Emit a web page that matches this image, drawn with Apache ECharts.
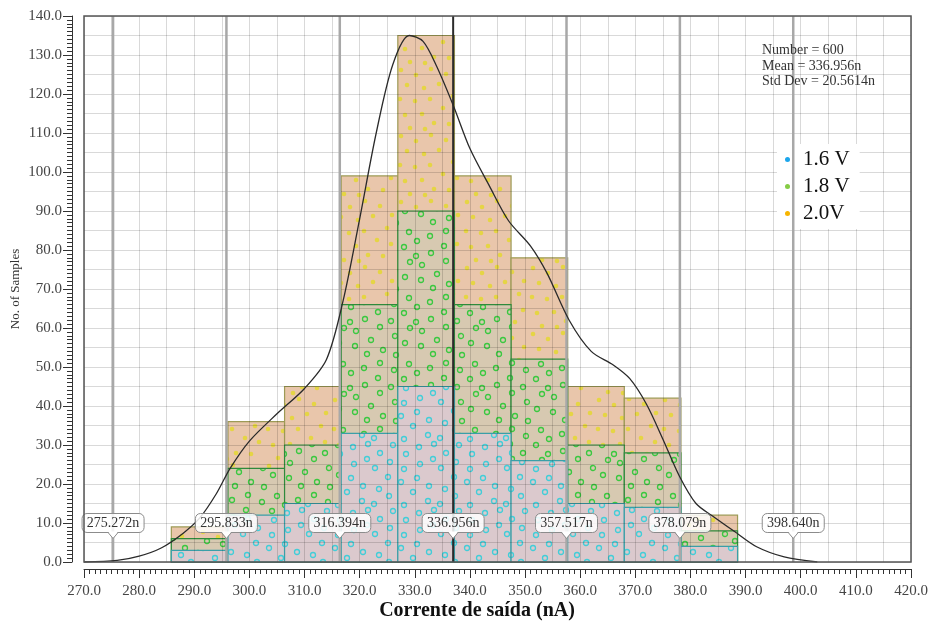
<!DOCTYPE html>
<html>
<head>
<meta charset="utf-8">
<script src="https://cdn.jsdelivr.net/npm/echarts@6/dist/echarts.min.js"></script>
<style>
  html, body { margin: 0; padding: 0; background: #ffffff; }
  #chart { width: 929px; height: 624px; }
</style>
</head>
<body>
<div id="chart"></div>
<script>
// Histogram bin edges of the output current (nA)
const binEdges = [285.84, 296.11, 306.38, 316.65, 326.92, 337.19, 347.46, 357.73, 368.00, 378.27, 388.54];
// Samples per bin for each supply voltage
const counts16 = [3, 12, 15, 33, 45, 33, 26, 15, 14, 4];
const counts18 = [6, 24, 30, 66, 90, 66, 52, 30, 28, 8];
const counts20 = [9, 36, 45, 99, 135, 99, 78, 45, 42, 12];
const seriesNames = ['1.6 V', '1.8 V', '2.0V'];

// Smoothed density curve of the 600 samples
const curveX = [270, 276, 280, 284, 288, 291, 294, 296.5, 300, 305, 310, 314, 317, 320, 323, 326, 329, 331.5, 334, 337, 340, 343.5, 347, 351, 354, 358, 362, 366, 369, 372, 375, 378, 381, 384, 388, 392, 397, 403];
const curveY = [0, 0.4, 1.5, 3.6, 7.4, 11.3, 17.5, 24, 31, 38, 44.5, 52, 67, 88, 110, 127.5, 135, 133.5, 127, 117, 106, 96.5, 87.5, 81, 74, 62, 54, 50.5, 47, 40.5, 31.5, 22, 15, 11.8, 7.8, 3.9, 1.3, 0];

// Mean and mean ± 1σ, 2σ, 3σ
const meanValue = 336.956;
const markerValues = [275.272, 295.833, 316.394, 336.956, 357.517, 378.079, 398.640];
const markerLabels = ['275.272n', '295.833n', '316.394n', '336.956n', '357.517n', '378.079n', '398.640n'];
const calloutLevel = 10;

const statsLines = ['Number = 600', 'Mean = 336.956n', 'Std Dev = 20.5614n'];

// Axis ranges
const xMin = 270, xMax = 420, xStep = 10;
const yMin = 0, yMax = 140, yStep = 10;
const gridStep = 5;

const SERIF = '"Liberation Serif", "Times New Roman", serif';

// Tile textures: a base colour sprinkled with sample dots
const TILE = 66;
const spotsBase = [[5, 4], [20, 9], [35, 3], [50, 8], [62, 17], [11, 19], [28, 22], [43, 18], [57, 30], [4, 33],
                   [19, 35], [34, 33], [47, 42], [61, 46], [9, 49], [26, 48], [38, 57], [53, 58], [14, 62], [29, 63]];

function makeTile(bg, dotColor, ring, spots) {
  const c = document.createElement('canvas');
  c.width = TILE; c.height = TILE;
  const g = c.getContext('2d');
  g.fillStyle = bg;
  g.fillRect(0, 0, TILE, TILE);
  spots.forEach(function (s) {
    for (let dx = -TILE; dx <= TILE; dx += TILE) {
      for (let dy = -TILE; dy <= TILE; dy += TILE) {
        g.beginPath();
        if (ring) {
          g.arc(s[0] + dx, s[1] + dy, 2.5, 0, Math.PI * 2);
          g.strokeStyle = dotColor;
          g.lineWidth = 1.3;
          g.stroke();
        } else {
          g.arc(s[0] + dx, s[1] + dy, 2.3, 0, Math.PI * 2);
          g.fillStyle = dotColor;
          g.fill();
        }
      }
    }
  });
  return c;
}
const spotsYellow = spotsBase;
const spotsGreen = spotsBase.map(function (s) { return [(TILE - s[1] + 17) % TILE, (s[0] + 29) % TILE]; });
const spotsCyan = spotsBase.map(function (s) { return [(s[1] + 41) % TILE, (TILE - s[0] + 11) % TILE]; });

const tile20 = makeTile('#e9c6ab', 'rgba(228, 214, 56, 0.9)', false, spotsYellow);
const tile18 = makeTile('#d7c9b1', 'rgba(50, 200, 58, 0.95)', true, spotsGreen);
const tile16 = makeTile('#dbc9cd', 'rgba(58, 206, 216, 0.95)', true, spotsCyan);

function binData(counts) {
  return counts.map(function (c, i) { return [binEdges[i], binEdges[i + 1], c]; });
}

function barSeries(name, counts, legendColor, tile, border, z) {
  const fill = { image: tile, repeat: 'repeat' };
  return {
    type: 'custom',
    name: name,
    z: z,
    silent: true,
    itemStyle: { color: legendColor },
    data: binData(counts),
    encode: { x: [0, 1], y: 2 },
    renderItem: function (params, api) {
      const tl = api.coord([api.value(0), api.value(2)]);
      const br = api.coord([api.value(1), 0]);
      return {
        type: 'rect',
        shape: { x: tl[0], y: tl[1], width: br[0] - tl[0], height: br[1] - tl[1] },
        style: { fill: fill, stroke: border, lineWidth: 1.2 }
      };
    }
  };
}

const chart = echarts.init(document.getElementById('chart'), null, { renderer: 'canvas' });

const option = {
  backgroundColor: '#ffffff',
  animation: false,
  grid: {
    left: 84, right: 18, top: 16, bottom: 62,
    show: true, z: 8,
    backgroundColor: 'transparent',
    borderColor: '#555555', borderWidth: 1.5,
    outerBoundsMode: 'none'
  },
  legend: {
    data: seriesNames,
    orient: 'vertical',
    left: 777, top: 144,
    icon: 'circle',
    itemWidth: 5, itemHeight: 5, itemGap: 6,
    backgroundColor: '#ffffff',
    padding: [5, 10, 5, 8],
    selectedMode: false,
    textStyle: { fontFamily: SERIF, fontSize: 21, color: '#111111', padding: [0, 0, 0, 8] }
  },
  xAxis: [
    {
      type: 'value', min: xMin, max: xMax, interval: xStep,
      position: 'bottom', offset: 7,
      name: 'Corrente de saída (nA)', nameLocation: 'middle', nameGap: 32, nameMoveOverlap: false,
      nameTextStyle: { fontFamily: SERIF, fontSize: 20, fontWeight: 'bold', color: '#111111', padding: [0, 41, 0, 0] },
      axisLine: { show: true, onZero: false, lineStyle: { color: '#333333', width: 1 } },
      axisTick: { show: true, length: 9, lineStyle: { color: '#333333' } },
      minorTick: { show: true, splitNumber: 10, length: 5, lineStyle: { color: '#333333' } },
      axisLabel: { margin: 15, fontFamily: SERIF, fontSize: 15, color: '#444444', formatter: function (v) { return v.toFixed(1); } },
      splitLine: { show: false }
    },
    {
      type: 'value', min: xMin, max: xMax, interval: gridStep, z: 3,
      axisLine: { show: false }, axisTick: { show: false }, axisLabel: { show: false },
      splitLine: { show: true, lineStyle: { color: 'rgba(0,0,0,0.15)', width: 1 } }
    }
  ],
  yAxis: [
    {
      type: 'value', min: yMin, max: yMax, interval: yStep,
      position: 'left', offset: 12,
      name: 'No. of Samples', nameLocation: 'middle', nameGap: 50, nameMoveOverlap: false,
      nameTextStyle: { fontFamily: SERIF, fontSize: 13, color: '#333333' },
      axisLine: { show: true, onZero: false, lineStyle: { color: '#333333', width: 1 } },
      axisTick: { show: true, length: 9, lineStyle: { color: '#333333' } },
      minorTick: { show: true, splitNumber: 10, length: 5, lineStyle: { color: '#333333' } },
      axisLabel: { margin: 10, fontFamily: SERIF, fontSize: 15, color: '#444444', formatter: function (v) { return v.toFixed(1); } },
      splitLine: { show: false }
    },
    {
      type: 'value', min: yMin, max: yMax, interval: gridStep, z: 3,
      axisLine: { show: false }, axisTick: { show: false }, axisLabel: { show: false },
      splitLine: { show: true, lineStyle: { color: 'rgba(0,0,0,0.15)', width: 1 } }
    }
  ],
  graphic: [
    {
      type: 'text', left: 762, top: 43, z: 9,
      style: { text: statsLines.join('\n'), fontFamily: SERIF, fontSize: 14, lineHeight: 15.5, fill: '#333333' }
    }
  ],
  series: [
    barSeries(seriesNames[2], counts20, '#f7b500', tile20, '#9d9a55', 2),
    barSeries(seriesNames[1], counts18, '#85cc45', tile18, '#2f8a3c', 2),
    barSeries(seriesNames[0], counts16, '#1ca6ec', tile16, '#3a9fa8', 2),
    {
      // mean and sigma marker lines
      type: 'custom', name: 'markers', z: 5, silent: true,
      data: markerValues.map(function (v) { return [v, calloutLevel]; }),
      encode: { x: 0, y: 1 },
      renderItem: function (params, api) {
        const v = api.value(0);
        const top = api.coord([v, yMax]);
        const bot = api.coord([v, yMin]);
        const isMean = v === meanValue;
        return {
          type: 'line',
          shape: { x1: top[0], y1: top[1], x2: bot[0], y2: bot[1] },
          style: { stroke: isMean ? '#2b2b2b' : '#a8a8a8', lineWidth: isMean ? 2 : 2.5 }
        };
      }
    },
    {
      type: 'line', name: 'density', z: 6, silent: true,
      data: curveX.map(function (x, i) { return [x, curveY[i]]; }),
      smooth: 0.3,
      showSymbol: false,
      lineStyle: { color: '#2a2a2a', width: 1.3 }
    },
    {
      // value callouts of the marker lines
      type: 'custom', name: 'callouts', z: 7, silent: true,
      data: markerValues.map(function (v, i) { return [v, calloutLevel, i]; }),
      encode: { x: 0, y: 1 },
      renderItem: function (params, api) {
        const p = api.coord([api.value(0), api.value(1)]);
        const cx = p[0], cy = p[1];
        const w = 62, h = 19, tip = 6, half = 5;
        const boxFill = 'rgba(255,255,255,0.85)';
        return {
          type: 'group',
          children: [
            { type: 'rect', shape: { x: cx - w / 2, y: cy - h / 2, width: w, height: h, r: 5 },
              style: { fill: boxFill, stroke: '#8c8c8c', lineWidth: 1 } },
            { type: 'polygon', shape: { points: [[cx - half, cy + h / 2 - 1], [cx + half, cy + h / 2 - 1], [cx, cy + h / 2 + tip]] },
              style: { fill: '#ffffff', stroke: null } },
            { type: 'polyline', shape: { points: [[cx - half, cy + h / 2], [cx, cy + h / 2 + tip], [cx + half, cy + h / 2]] },
              style: { stroke: '#8c8c8c', lineWidth: 1, fill: null } },
            { type: 'text', x: cx, y: cy,
              style: { text: markerLabels[params.dataIndex], fontFamily: SERIF, fontSize: 14, fill: '#333333', align: 'center', verticalAlign: 'middle' } }
          ]
        };
      }
    }
  ]
};

chart.setOption(option);
</script>
</body>
</html>
